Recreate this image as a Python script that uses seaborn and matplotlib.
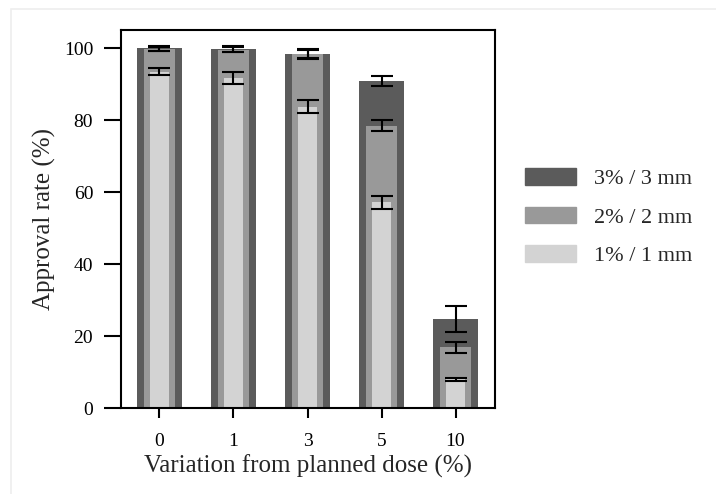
import matplotlib
matplotlib.use("Agg")
import matplotlib.pyplot as plt
import matplotlib.patches as mpatches
import seaborn as sns
import pandas as pd
import numpy as np

# Approval rates per dose variation, for three gamma criteria
variation = ["0", "1", "3", "5", "10"]
rate_3mm = [99.9, 99.7, 98.5, 90.8, 24.7]
err_3mm = [0.6, 0.8, 1.3, 1.4, 3.6]
rate_2mm = [99.7, 99.6, 98.3, 78.5, 16.9]
err_2mm = [0.6, 0.8, 1.3, 1.5, 1.5]
rate_1mm = [93.5, 91.7, 83.7, 57.2, 8.0]
err_1mm = [1.1, 1.6, 1.8, 1.8, 0.4]

labels = ["3% / 3 mm", "2% / 2 mm", "1% / 1 mm"]
colors = ["#5b5b5b", "#999999", "#d3d3d3"]
widths = [0.60, 0.42, 0.26]

sns.set_theme(style="white")
plt.rcParams["font.family"] = ["Liberation Serif", "DejaVu Serif"]

fig = plt.figure(figsize=(7.16, 4.94), dpi=100)
ax = fig.add_axes([0.169, 0.174, 0.522, 0.765])

series = [(rate_3mm, err_3mm), (rate_2mm, err_2mm), (rate_1mm, err_1mm)]
for (vals, errs), lab, col, w in zip(series, labels, colors, widths):
    df = pd.DataFrame({"variation": variation, "rate": vals})
    sns.barplot(data=df, x="variation", y="rate", order=variation,
                color=col, width=w, ax=ax, errorbar=None, label=lab,
                saturation=1, linewidth=0)

xpos = np.arange(len(variation))
for vals, errs in series:
    ax.errorbar(xpos, vals, yerr=errs, fmt="none", ecolor="black",
                elinewidth=1.5, capsize=8, capthick=1.5, zorder=5)

ax.set_xlim(-0.52, 4.53)
ax.set_ylim(0, 105)
ax.set_yticks([0, 20, 40, 60, 80, 100])
ax.set_xlabel("Variation from planned dose (%)", fontsize=18, labelpad=3)
ax.set_ylabel("Approval rate (%)", fontsize=18, labelpad=6)

for sp in ax.spines.values():
    sp.set_visible(True)
    sp.set_color("black")
    sp.set_linewidth(1.5)

ax.tick_params(axis="y", which="major", direction="out", length=12, width=1.5,
               labelsize=14, pad=8, left=True, colors="black")
ax.tick_params(axis="x", which="major", direction="out", length=7, width=1.5,
               labelsize=14, pad=11, bottom=True, colors="black")

handles = [mpatches.Patch(color=c, label=l) for c, l in zip(colors, labels)]
ax.legend(handles=handles, loc="center left", bbox_to_anchor=(1.08, 0.505),
          frameon=False, fontsize=16, handlelength=2.3, handleheight=0.77,
          labelspacing=0.78, handletextpad=0.8, borderpad=0, borderaxespad=0)

# faint frame around the figure
fig.patches.append(mpatches.Rectangle((11 / 716, -0.1), 1.2, 1.1 - 9 / 494,
                                      transform=fig.transFigure, fill=False,
                                      edgecolor="#eeeeee", linewidth=1.2))

fig.savefig("out.png", dpi=100)
